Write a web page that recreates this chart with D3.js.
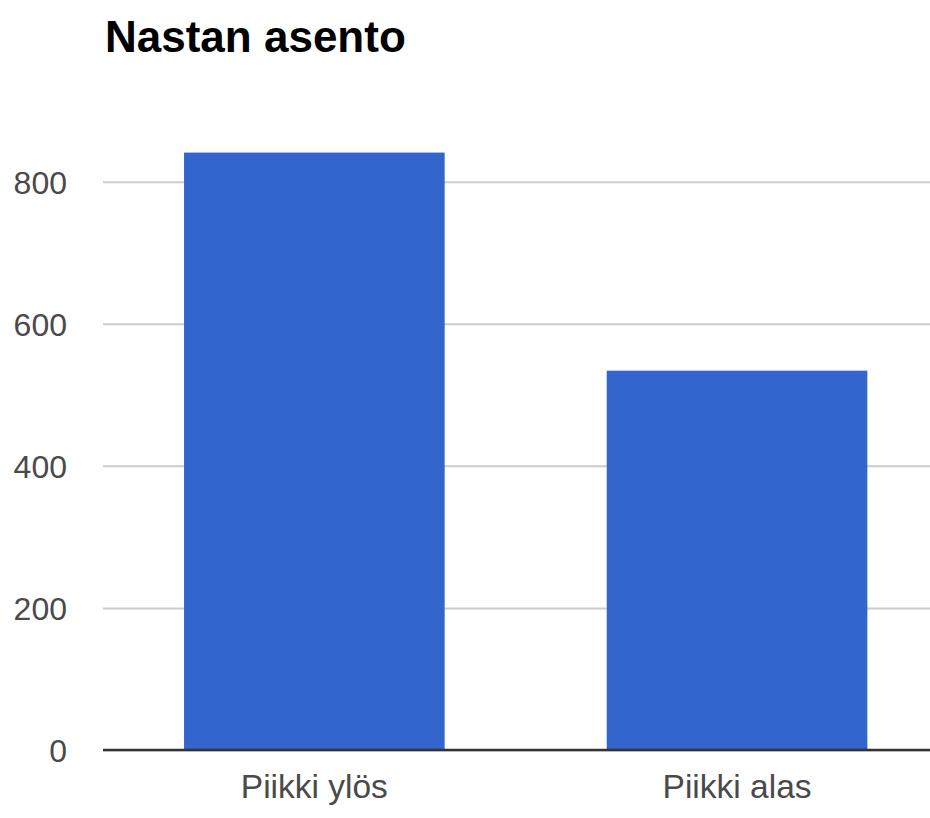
<!DOCTYPE html>
<html>
<head>
<meta charset="utf-8">
<script src="https://cdn.jsdelivr.net/npm/d3@7"></script>
<style>
  html, body { margin: 0; padding: 0; background: #fff; }
  svg { display: block; }
</style>
</head>
<body>
<svg id="chart" width="930" height="818"></svg>
<script>
const title = "Nastan asento";
const categories = ["Piikki ylös", "Piikki alas"];
const values = [841, 534];
const yTicks = [0, 200, 400, 600, 800];

const svg = d3.select("#chart");
const W = 930, H = 818;
const plot = { left: 103, right: 948.4, top: 100, bottom: 750 };

const y = d3.scaleLinear().domain([0, 800]).range([plot.bottom, 181.7]);
const x = d3.scaleBand().domain(categories).range([plot.left, plot.right])
  .paddingInner(0.3834).paddingOuter(0.3834 / 2);

svg.append("text")
  .attr("x", 105).attr("y", 52)
  .attr("font-family", "'Liberation Sans', Arial, sans-serif")
  .attr("font-weight", "bold").attr("font-size", 44)
  .attr("fill", "#000")
  .text(title);

// gridlines
const yAxis = d3.axisLeft(y).tickValues(yTicks).tickSize(-(plot.right - plot.left)).tickPadding(36).tickFormat(d3.format("d"));
const gy = svg.append("g").attr("transform", `translate(${plot.left},0)`).call(yAxis);
gy.select(".domain").remove();
gy.selectAll(".tick line").attr("stroke", "#cccccc").attr("stroke-width", 2);
gy.selectAll(".tick text")
  .attr("font-family", "'Liberation Sans', Arial, sans-serif")
  .attr("font-size", 32).attr("fill", "#4a4a4a").attr("dy", "0.36em");

// bars
svg.append("g").selectAll("rect").data(values).join("rect")
  .attr("x", (d, i) => x(categories[i]))
  .attr("y", d => y(d))
  .attr("width", x.bandwidth())
  .attr("height", d => y(0) - y(d))
  .attr("fill", "#3366cc");

// baseline
svg.append("line")
  .attr("x1", plot.left).attr("x2", W)
  .attr("y1", y(0)).attr("y2", y(0))
  .attr("stroke", "#333").attr("stroke-width", 2.5);

// x labels
const xAxis = d3.axisBottom(x).tickSize(0).tickPadding(0);
const gx = svg.append("g").attr("transform", `translate(0,${plot.bottom})`).call(xAxis);
gx.select(".domain").remove();
gx.selectAll(".tick text")
  .attr("font-family", "'Liberation Sans', Arial, sans-serif")
  .attr("font-size", 33.5).attr("fill", "#4a4a4a")
  .attr("dy", 0).attr("y", 48);
</script>
</body>
</html>
